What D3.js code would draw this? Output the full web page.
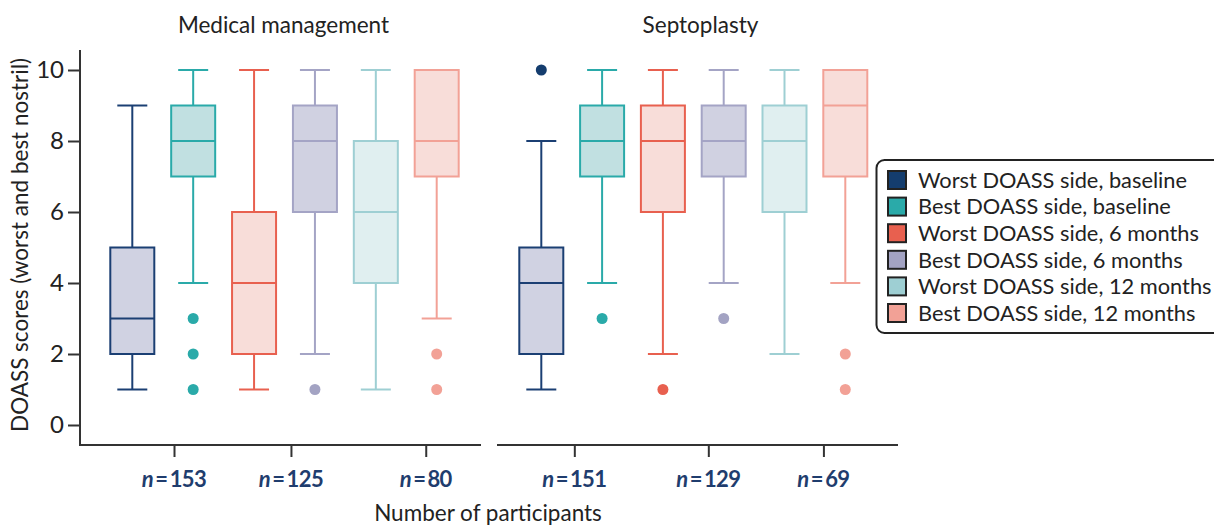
<!DOCTYPE html>
<html><head><meta charset="utf-8">
<script src="https://cdn.jsdelivr.net/npm/d3@7"></script>
<style>body{margin:0;background:#fff}svg{display:block;font-family:Lato,"Noto Sans",sans-serif}</style>
</head><body><svg id="c" width="1214" height="525"></svg>
<script>
const panels = ["Medical management", "Septoplasty"];
const seriesNames = ["Worst DOASS side, baseline","Best DOASS side, baseline","Worst DOASS side, 6 months","Best DOASS side, 6 months","Worst DOASS side, 12 months","Best DOASS side, 12 months"];
// Medical management
const mmLow  = [1, 4, 1, 2, 1, 3];
const mmQ1   = [2, 7, 2, 6, 4, 7];
const mmMed  = [3, 8, 4, 8, 6, 8];
const mmQ3   = [5, 9, 6, 9, 8, 10];
const mmHigh = [9, 10, 10, 10, 10, 10];
const mmOut  = [[], [3, 2, 1], [], [1], [], [2, 1]];
// Septoplasty
const spLow  = [1, 4, 2, 4, 2, 4];
const spQ1   = [2, 7, 6, 7, 6, 7];
const spMed  = [4, 8, 8, 8, 8, 9];
const spQ3   = [5, 9, 9, 9, 9, 10];
const spHigh = [8, 10, 10, 10, 10, 10];
const spOut  = [[10], [3], [1], [3], [], [2, 1]];
const mmN = ["153", "125", "80"];
const spN = ["151", "129", "69"];
const mmNPos = [0.685, 2.606, 4.82];
const spNPos = [0.543, 2.747, 4.64];
const yTicks = [0, 2, 4, 6, 8, 10];

const strokeCols = ["#1b3f73","#2aaaa9","#e8604f","#a4a4c5","#9ecfd3","#f2a196"];
const fillCols   = ["#d0d2e2","#c1e0e1","#f8ddd9","#d0d1e1","#e0eff0","#f8ddd9"];
const legendCols = ["#143d6e","#2aaaa9","#e8604f","#a3a3c3","#9ecfd3","#f2a196"];
const navy = "#1f3d6e";

const svg = d3.select("#c");
const y = d3.scaleLinear().domain([0, 10]).range([425, 70]);
const axisCol = "#333";
const axisY0 = 445;

const panelDefs = [
  {title: panels[0], x0: 80, x1: 481, c0: 132.3, c5: 436.7, low: mmLow, q1: mmQ1, med: mmMed, q3: mmQ3, high: mmHigh, out: mmOut, n: mmN, npos: mmNPos},
  {title: panels[1], x0: 497, x1: 898, c0: 541.3, c5: 845.3, low: spLow, q1: spQ1, med: spMed, q3: spQ3, high: spHigh, out: spOut, n: spN, npos: spNPos}
];

// y axis
const yAxis = d3.axisLeft(y).tickValues(yTicks).tickSize(12).tickPadding(4);
const ga = svg.append("g").attr("transform", "translate(80,0)").call(yAxis);
ga.select(".domain").remove();
ga.selectAll(".tick line").attr("stroke", axisCol).attr("stroke-width", 2);
ga.selectAll(".tick text").attr("fill", "#222").style("font-size", "24px").style("font-family", "Lato");
svg.append("line").attr("x1", 80).attr("x2", 80).attr("y1", 50).attr("y2", axisY0 + 1).attr("stroke", axisCol).attr("stroke-width", 2);

svg.append("text").attr("transform", "translate(20,245) rotate(-90)").attr("text-anchor", "middle")
  .attr("dy", "0.35em").style("font-size", "22.5px").attr("fill", "#222").text("DOASS scores (worst and best nostril)");

panelDefs.forEach(p => {
  const x = d3.scaleLinear().domain([0, 5]).range([p.c0, p.c5]);
  const bw = 44, cw = 30;
  // x axis
  svg.append("line").attr("x1", p.x0).attr("x2", p.x1).attr("y1", axisY0).attr("y2", axisY0).attr("stroke", axisCol).attr("stroke-width", 2);
  const xa = d3.axisBottom(x).tickValues(p.npos).tickSize(12).tickFormat("");
  const gx = svg.append("g").attr("transform", `translate(0,${axisY0})`).call(xa);
  gx.select(".domain").remove();
  gx.selectAll(".tick line").attr("stroke", axisCol).attr("stroke-width", 2);
  // n labels
  p.npos.forEach((v, i) => {
    const t = svg.append("text").attr("x", x(v)).attr("y", 487).attr("text-anchor", "middle")
      .attr("fill", navy).style("font-size", "22px").style("font-weight", "bold").style("letter-spacing", "-0.6px");
    t.append("tspan").style("font-style", "italic").text("n");
    t.append("tspan").text("\u2009=\u2009" + p.n[i]);
  });
  // title
  svg.append("text").attr("x", (p.x0 + p.x1) / 2 + 3).attr("y", 33).attr("text-anchor", "middle")
    .style("font-size", "22.5px").attr("fill", "#222").text(p.title);
  // boxes
  for (let i = 0; i < 6; i++) {
    const cx = x(i), sc = strokeCols[i];
    const g = svg.append("g");
    g.append("line").attr("x1", cx).attr("x2", cx).attr("y1", y(p.low[i])).attr("y2", y(p.q1[i])).attr("stroke", sc).attr("stroke-width", 2);
    g.append("line").attr("x1", cx).attr("x2", cx).attr("y1", y(p.q3[i])).attr("y2", y(p.high[i])).attr("stroke", sc).attr("stroke-width", 2);
    [p.low[i], p.high[i]].forEach(v => {
      if ((v === p.high[i] && v === p.q3[i])) return;
      g.append("line").attr("x1", cx - cw / 2).attr("x2", cx + cw / 2).attr("y1", y(v)).attr("y2", y(v)).attr("stroke", sc).attr("stroke-width", 2);
    });
    g.append("rect").attr("x", cx - bw / 2).attr("width", bw).attr("y", y(p.q3[i])).attr("height", y(p.q1[i]) - y(p.q3[i]))
      .attr("fill", fillCols[i]).attr("stroke", sc).attr("stroke-width", 2);
    g.append("line").attr("x1", cx - bw / 2).attr("x2", cx + bw / 2).attr("y1", y(p.med[i])).attr("y2", y(p.med[i])).attr("stroke", sc).attr("stroke-width", 2);
    p.out[i].forEach(v => {
      g.append("circle").attr("cx", cx).attr("cy", y(v)).attr("r", 5.5).attr("fill", legendCols[i]);
    });
  }
});

svg.append("text").attr("x", 488).attr("y", 521).attr("text-anchor", "middle").style("font-size", "22.5px").attr("fill", "#222").text("Number of participants");

// legend
const lg = svg.append("g");
lg.append("rect").attr("x", 876.5).attr("y", 160).attr("width", 360).attr("height", 173).attr("rx", 8)
  .attr("fill", "#fff").attr("stroke", "#222").attr("stroke-width", 2);
seriesNames.forEach((s, i) => {
  const yy = 180 + i * 26.6;
  lg.append("rect").attr("x", 888).attr("y", yy - 9).attr("width", 18).attr("height", 18)
    .attr("fill", legendCols[i]).attr("stroke", "#222").attr("stroke-width", 2);
  lg.append("text").attr("x", 918).attr("y", yy).attr("dy", "0.36em").style("font-size", "21.8px").attr("fill", "#222").text(s);
});
</script></body></html>
